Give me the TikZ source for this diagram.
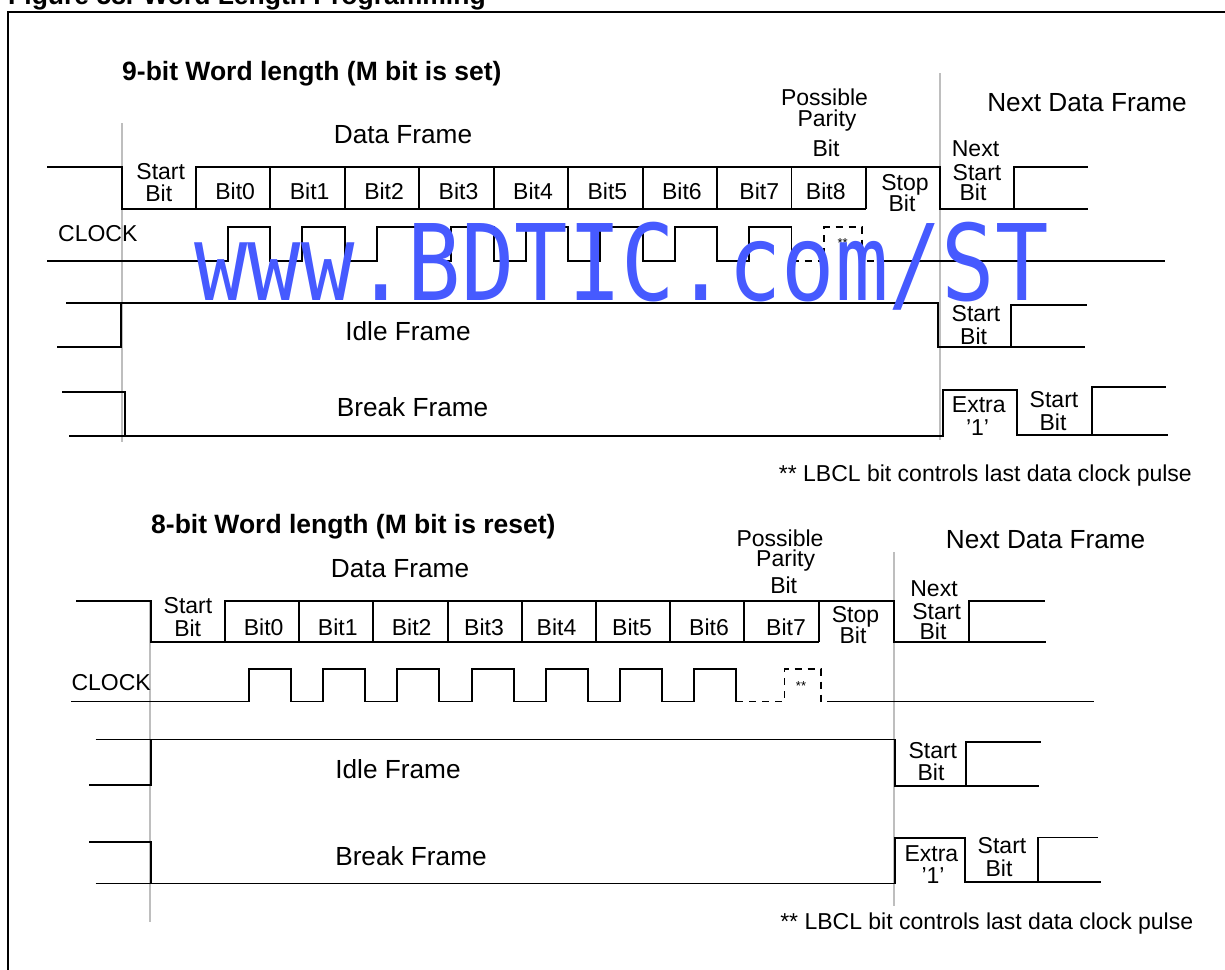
\documentclass[tikz,border=0pt]{standalone}
\usepackage{graphicx}
\usepackage{fontspec}
\setmainfont{Liberation Sans}
\newfontfamily\wmfont{DejaVu Sans Mono}
\definecolor{wmblue}{RGB}{70,90,255}
\definecolor{gridgray}{RGB}{190,190,190}
\begin{document}
\begin{tikzpicture}[x=1pt,y=-1pt,
  sig/.style={line width=1.9pt},
  dsh/.style={line width=1.6pt, dash pattern=on 7pt off 6pt},
  gl/.style={gridgray, line width=1.5pt},
  sm/.style={font=\fontsize{23}{23}\selectfont, inner sep=0pt, anchor=base},
  bg/.style={font=\fontsize{26.2}{26}\selectfont, inner sep=0pt, anchor=base},
  hd/.style={font=\bfseries\fontsize{26.5}{27}\selectfont, inner sep=0pt, anchor=base west},
  fn/.style={font=\fontsize{23}{23}\selectfont, inner sep=0pt, anchor=base east},
  st/.style={font=\fontsize{13}{13}\selectfont, inner sep=0pt, anchor=center},
]
\useasboundingbox (0,0) rectangle (1225,969);
% frame and figure title
\draw[line width=1.9pt] (8,990) -- (8,12) -- (1240,12);
\node[hd] (fig) at (8,5) {Figure 58. Word Length Programming};

% ================= 9-bit =================
\node[hd] (t9) at (122,80) {9-bit Word length (M bit is set)};
\draw[gl] (122,123) -- (122,442);
\draw[gl] (940,73) -- (940,440);

\node[bg] (df9) at (403,143) {Data Frame};
\node[bg] (ndf9) at (1087,111.7) {Next Data Frame};
\node[sm] (pp9a) at (824.5,105) {Possible};
\node[sm] (pp9b) at (827,126.7) {Parity};
\node[sm] (pp9c) at (826,156) {Bit};

% data line
\draw[sig] (47,167) -- (122,167) -- (122,209) -- (196,209) -- (196,167) -- (940,167) -- (940,209) -- (1088,209);
\draw[sig] (196,209) -- (866,209);
\foreach \i in {1,...,9} \draw[sig] ({196+74.44*\i},167) -- ({196+74.44*\i},209);
\draw[sig] (1014,209) -- (1014,167) -- (1088,167);

\node[sm] (sb9a) at (160.7,179.3) {Start};
\node[sm] (sb9b) at (158.8,201.7) {Bit};
\foreach \i/\dx in {0/2,1/2,2/2,3/2,4/2,5/2,6/2,7/5,8/-3}
  \node[sm] (b9\i) at ({196+74.44*\i+37.22+\dx},199) {Bit\i};
\node[sm] (sp9a) at (905,190) {Stop};
\node[sm] (sp9b) at (902,211.7) {Bit};
\node[sm] (ns9a) at (975.5,156.7) {Next};
\node[sm] (ns9b) at (977,180) {Start};
\node[sm] (ns9c) at (973,200) {Bit};

% clock
\node[sm, anchor=base west] (clk9) at (58,241) {CLOCK};
\draw[sig] (47,261) foreach \k in {0,...,7}{ -- ({228+74.44*\k},261) -- ({228+74.44*\k},227) -- ({270.44+74.44*\k},227) -- ({270.44+74.44*\k},261) };
\draw[dsh] (791.5,261) -- (824,261) -- (824,227) -- (862,227) -- (862,261) -- (887,261);
\draw[sig] (887,261) -- (1165,261);
\node[st] (ast9) at (842.6,243) {**};

% idle
\draw[sig] (57,347) -- (121,347) -- (121,303);
\draw[sig] (66,303) -- (938,303) -- (938,347) -- (1085,347);
\draw[sig] (1011,347) -- (1011,305) -- (1087,305);
\node[bg] (if9) at (408,340.7) {Idle Frame};
\node[sm] (is9a) at (976,321.7) {Start};
\node[sm] (is9b) at (973.6,344) {Bit};

% break
\draw[sig] (62,392) -- (125,392) -- (125,436);
\draw[sig] (69,436) -- (943,436) -- (943,390) -- (1017,390) -- (1017,435) -- (1168,435);
\draw[sig] (1092,435) -- (1092,387) -- (1166,387);
\node[bg] (bf9) at (412.6,416.7) {Break Frame};
\node[sm] (ex9a) at (978.8,412.7) {Extra};
\node[sm] (ex9b) at (977.5,435) {'1'};
\node[sm] (bs9a) at (1054,407.7) {Start};
\node[sm] (bs9b) at (1053,430) {Bit};

\node[fn] (fn9) at (1192,481.7) {** LBCL bit controls last data clock pulse};

% ================= 8-bit =================
\node[hd] (t8) at (151,533) {8-bit Word length (M bit is reset)};
\draw[gl] (150,600) -- (150,922);
\draw[gl] (894,552) -- (894,906);

\node[bg] (df8) at (400,577.3) {Data Frame};
\node[bg] (ndf8) at (1045.6,548.3) {Next Data Frame};
\node[sm] (pp8a) at (780,546) {Possible};
\node[sm] (pp8b) at (785.6,566.7) {Parity};
\node[sm] (pp8c) at (783.7,593.3) {Bit};

\draw[sig] (76,601) -- (151,601) -- (151,642) -- (225,642) -- (225,601) -- (894,601) -- (894,642) -- (1046,642);
\draw[sig] (225,642) -- (818.6,642);
\foreach \i in {1,...,8} \draw[sig] ({225+74.2*\i},601) -- ({225+74.2*\i},642);
\draw[sig] (969,642) -- (969,601) -- (1045,601);

\node[sm] (sb8a) at (188,613.3) {Start};
\node[sm] (sb8b) at (187.7,636.7) {Bit};
\foreach \i/\x in {0/263.7,1/337.8,2/411.7,3/484,4/556.5,5/632,6/709,7/786}
  \node[sm] (b8\i) at (\x,635) {Bit\i};
\node[sm] (sp8a) at (855.5,622.5) {Stop};
\node[sm] (sp8b) at (853,643) {Bit};
\node[sm] (ns8a) at (934,596.7) {Next};
\node[sm] (ns8b) at (936.6,619) {Start};
\node[sm] (ns8c) at (933,639.3) {Bit};

\node[sm, anchor=base west] (clk8) at (71.4,690) {CLOCK};
\draw[sig] (71.4,701.5) foreach \k in {0,...,6}{ -- ({249+74.2*\k},701.5) -- ({249+74.2*\k},669) -- ({291+74.2*\k},669) -- ({291+74.2*\k},701.5) };
\draw[dsh] (736.2,701.5) -- (784.3,701.5) -- (784.3,669) -- (821,669) -- (821,701.5) -- (827,701.5);
\draw[sig] (827,701.5) -- (1094,701.5);
\node[st] (ast8) at (801,686) {**};

\draw[sig] (89,785) -- (151,785) -- (151,739.5);
\draw[sig] (95.5,739.5) -- (895,739.5) -- (895,786) -- (1039,786);
\draw[sig] (965.6,786) -- (965.6,742) -- (1041,742);
\node[bg] (if8) at (398,778.3) {Idle Frame};
\node[sm] (is8a) at (932.8,758.3) {Start};
\node[sm] (is8b) at (931,780) {Bit};

\draw[sig] (89,842) -- (151,842) -- (151,883.5);
\draw[sig] (95.5,883.5) -- (895,883.5) -- (895,838) -- (965,838) -- (965,882) -- (1101,882);
\draw[sig] (1038,882) -- (1038,837.5) -- (1098,837.5);
\node[bg] (bf8) at (411,865) {Break Frame};
\node[sm] (ex8a) at (931.4,861.7) {Extra};
\node[sm] (ex8b) at (933,883.3) {'1'};
\node[sm] (bs8a) at (1002,853.3) {Start};
\node[sm] (bs8b) at (999,876) {Bit};

\node[fn] (fn8) at (1193.4,929) {** LBCL bit controls last data clock pulse};

% watermark
\node[inner sep=0pt, anchor=base west, text=wmblue, font=\wmfont\fontsize{105.6}{106}\selectfont] (wm) at (194,300) {\scalebox{0.84}[1]{www.BDTIC.com/ST}};
\end{tikzpicture}
\end{document}
